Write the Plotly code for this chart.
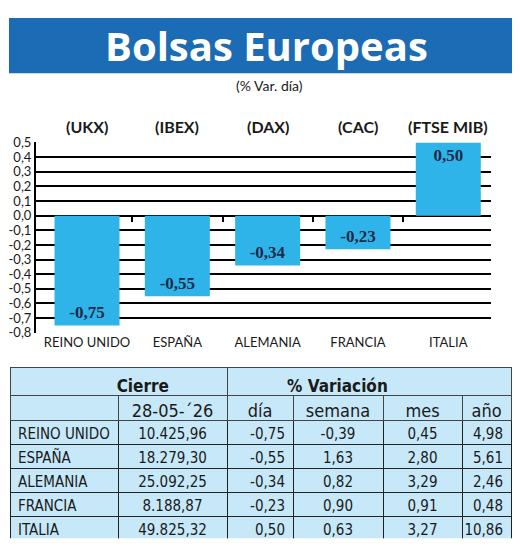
import plotly.graph_objects as go

# ---------------- data ----------------
countries = ["REINO UNIDO", "ESPAÑA", "ALEMANIA", "FRANCIA", "ITALIA"]
indices = ["(UKX)", "(IBEX)", "(DAX)", "(CAC)", "(FTSE MIB)"]
var_dia = [-0.75, -0.55, -0.34, -0.23, 0.50]
var_dia_txt = ["-0,75", "-0,55", "-0,34", "-0,23", "0,50"]
y_tickvals = [0.5, 0.4, 0.3, 0.2, 0.1, 0.0, -0.1, -0.2, -0.3, -0.4, -0.5, -0.6, -0.7, -0.8]
y_ticktext = ["0,5", "0,4", "0,3", "0,2", "0,1", "0,0", "-0,1", "-0,2", "-0,3", "-0,4",
              "-0,5", "-0,6", "-0,7", "-0,8"]

fecha = "28-05-´26"
cierre = ["10.425,96", "18.279,30", "25.092,25", "8.188,87", "49.825,32"]
t_dia = ["-0,75", "-0,55", "-0,34", "-0,23", "0,50"]
t_semana = ["-0,39", "1,63", "0,82", "0,90", "0,63"]
t_mes = ["0,45", "2,80", "3,29", "0,91", "3,27"]
t_anio = ["4,98", "5,61", "2,46", "0,48", "10,86"]

# page has an 8px body margin -> work in window pixels, shifted
OFF = 8
W, H = 520 - OFF, 547 - OFF


def px(x):
    return (x - OFF) / W


def py(y):
    return 1 - (y - OFF) / H


BAR = "#2fb4e9"
NAVY = "#1b2a48"
TBL = "#c7e8f8"
TITLE_BLUE = "#1b6cb4"
SANS = "Lato, Liberation Sans, sans-serif"
NARROW = "DejaVu Sans Condensed, Liberation Sans, sans-serif"

xs = list(range(len(countries)))
# keep multi-word row names on a single line inside the table
table_names = [c.replace(" ", "\u00a0") for c in countries]
NB = "\u00a0"
hdr_top = [NB * 10 + "<b>Cierre</b>", "<b>% Variación</b>" + NB * 13]

fig = go.Figure()
fig.add_trace(go.Bar(
    x=xs, y=var_dia, width=0.72, marker=dict(color=BAR, line=dict(width=0)),
    text=var_dia_txt, textposition="inside", insidetextanchor="end",
    textangle=0,
    insidetextfont=dict(family="Liberation Serif, serif", size=17, color=NAVY, weight="bold"),
    hoverinfo="skip", cliponaxis=False, showlegend=False,
))
# invisible trace for the zero-line tick axis
fig.add_trace(go.Scatter(x=[0], y=[0], xaxis="x2", yaxis="y", mode="markers",
                         marker=dict(opacity=0), showlegend=False, hoverinfo="skip"))

ydom = [py(334), py(138)]
yr = [-0.8, 0.5]
zero_pos = ydom[0] + (0 - yr[0]) / (yr[1] - yr[0]) * (ydom[1] - ydom[0])
xr = [-0.565, 4.473]

fig.update_layout(
    width=W, height=H,
    margin=dict(l=0, r=0, t=0, b=0),
    paper_bgcolor="white", plot_bgcolor="white",
    xaxis=dict(domain=[px(36), px(491)], range=xr, tickvals=xs, ticktext=countries,
               showgrid=False, zeroline=False, showline=False, ticks="",
               tickfont=dict(family=SANS, size=13, color="#1a1a1a"), fixedrange=True),
    xaxis2=dict(domain=[px(36), px(491)], range=xr, overlaying="x", anchor="free",
                position=zero_pos, tickvals=[0.5, 1.5, 2.5, 3.5, 4.5],
                ticks="outside", ticklen=5, tickwidth=2, tickcolor="black",
                showticklabels=False, showgrid=False, zeroline=False, showline=False),
    yaxis=dict(domain=ydom, range=[-0.8015, 0.5015], tickvals=y_tickvals, ticktext=y_ticktext,
               showgrid=True, gridcolor="black", gridwidth=2,
               zeroline=True, zerolinecolor="black", zerolinewidth=2,
               showline=True, linecolor="black", linewidth=2, ticks="",
               tickfont=dict(family=SANS, size=13, color="#1a1a1a"), fixedrange=True),
)

# banner
fig.add_shape(type="rect", xref="paper", yref="paper", x0=px(9), x1=px(517),
              y0=py(67), y1=py(10), fillcolor=TITLE_BLUE, line=dict(width=0), layer="below")
fig.add_annotation(xref="paper", yref="paper", x=px(266), y=py(38), text="<b>Bolsas Europeas</b>",
                   showarrow=False, xanchor="center", yanchor="middle",
                   font=dict(family="Open Sans, Lato, sans-serif", size=40, color="white"))
fig.add_annotation(xref="paper", yref="paper", x=px(269), y=py(80), text="(% Var. día)",
                   showarrow=False, xanchor="center", yanchor="middle",
                   font=dict(family=SANS, size=14, color="#1a1a1a"))

for i, lab in enumerate(indices):
    fig.add_annotation(xref="x", yref="paper", x=i, y=py(122), text="<b>" + lab + "</b>",
                       showarrow=False, xanchor="center", yanchor="middle",
                       font=dict(family=SANS, size=16, color="#1a1a1a"))

# table: top header row (its filler cell row is hidden beneath the main table)
fig.add_trace(go.Table(
    domain=dict(x=[px(10), px(511)], y=[py(420), py(370)]),
    columnwidth=[217, 284],
    header=dict(values=hdr_top, height=28,
                fill_color=TBL, line=dict(color="#444", width=1),
                font=dict(family=NARROW, size=17, color="#1a1a1a"), align="center"),
    cells=dict(values=[[""], [""]], height=20, fill_color=TBL,
               line=dict(color="#444", width=1)),
))

fig.add_trace(go.Table(
    domain=dict(x=[px(10), px(511)], y=[py(546), py(398)]),
    columnwidth=[108, 109, 66, 90, 79, 49],
    header=dict(values=["", fecha, "día", "semana", "mes", "año"], height=25,
                fill_color=TBL, line=dict(color="#444", width=1),
                font=dict(family=NARROW, size=18, color="#1a1a1a"), align="center"),
    cells=dict(values=[table_names, cierre, t_dia, t_semana, t_mes, t_anio], height=24,
               fill_color=TBL, line=dict(color="#222", width=1),
               font=dict(family=NARROW, size=15, color="#1a1a1a"),
               align=["left", "center", "right", "center", "center", "right"]),
))

fig.write_html("out.html")
